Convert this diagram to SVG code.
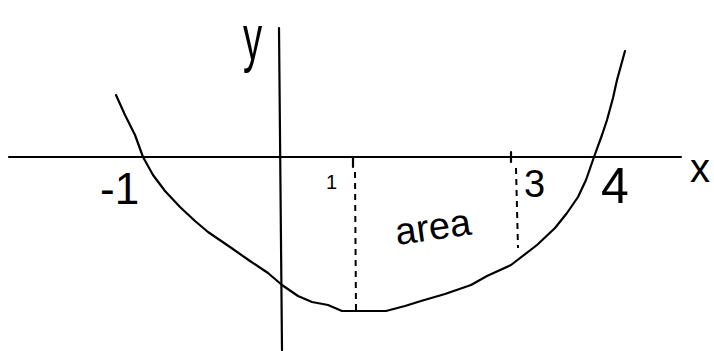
<svg xmlns="http://www.w3.org/2000/svg" width="714" height="351" viewBox="0 0 714 351">
<style>
.ln{fill:none;stroke:#000;stroke-width:2.2;stroke-linecap:round;stroke-linejoin:round}
.ds{fill:none;stroke:#000;stroke-width:2;stroke-dasharray:6 5}
.t{font-family:"Liberation Sans","DejaVu Sans",sans-serif;fill:#000}
</style>
<rect width="714" height="351" fill="#fff"/>
<g id="axes">
<line class="ln" x1="9" y1="157" x2="681" y2="157"/>
<line class="ln" x1="279" y1="28" x2="282" y2="350"/>
<line class="ln" x1="353" y1="157" x2="353" y2="167"/>
<line class="ln" x1="511" y1="152" x2="511" y2="162"/>
</g>
<g id="curve">
<polyline class="ln" points="116,95 125,115 135,135 143,157 153,175 165,191 180,207 195,221 208,232 230,247 250,261 268,273 282,285 298,296 312,302 328,305 342,311 358,311 386,311 405,306 421,301 445,294 471,285 487,276 511,265 537,245 555,228 567,213 578,197 586,180 594,157 602,135 607,120 613,98 617,80 625,51"/>
</g>
<g id="bounds">
<line class="ds" x1="355" y1="172" x2="356" y2="311"/>
<line class="ds" x1="516" y1="168" x2="518" y2="248"/>
</g>
<g id="labels">
<text class="t" transform="translate(243,60) scale(0.6,1)" font-size="64">y</text>
<text class="t" x="690" y="182" font-size="40">x</text>
<text class="t" x="100" y="204" font-size="44">-1</text>
<text class="t" x="326" y="189" font-size="20">1</text>
<text class="t" x="524" y="197" font-size="38">3</text>
<text class="t" x="601" y="203" font-size="50">4</text>
<text class="t" transform="translate(397,245) rotate(-8)" font-size="38">area</text>
</g>
</svg>
